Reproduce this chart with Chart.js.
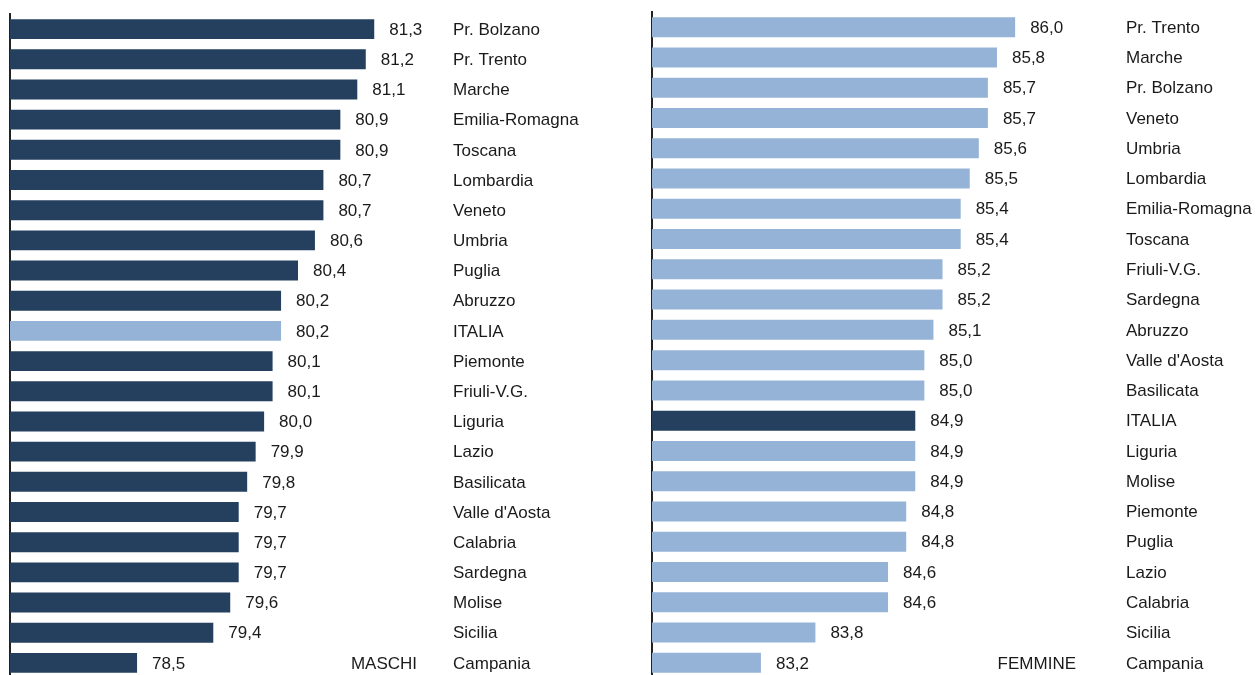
<!DOCTYPE html>
<html>
<head>
<meta charset="utf-8">
<script src="https://cdn.jsdelivr.net/npm/chart.js@4"></script>
<style>
  html, body { margin: 0; padding: 0; background: #fff; overflow: hidden; }
  .box { position: absolute; top: 0; height: 678px; }
  #boxM { left: 0; width: 640px; }
  #boxF { left: 640px; width: 618px; }
</style>
</head>
<body>
<div class="box" id="boxM"><canvas id="chartM"></canvas></div>
<div class="box" id="boxF"><canvas id="chartF"></canvas></div>
<script>
// Speranza di vita alla nascita per regione
const regioniMaschi = ["Pr. Bolzano", "Pr. Trento", "Marche", "Emilia-Romagna", "Toscana", "Lombardia",
  "Veneto", "Umbria", "Puglia", "Abruzzo", "ITALIA", "Piemonte", "Friuli-V.G.", "Liguria", "Lazio",
  "Basilicata", "Valle d'Aosta", "Calabria", "Sardegna", "Molise", "Sicilia", "Campania"];
const valoriMaschi = [81.3, 81.2, 81.1, 80.9, 80.9, 80.7, 80.7, 80.6, 80.4, 80.2, 80.2, 80.1, 80.1,
  80.0, 79.9, 79.8, 79.7, 79.7, 79.7, 79.6, 79.4, 78.5];

const regioniFemmine = ["Pr. Trento", "Marche", "Pr. Bolzano", "Veneto", "Umbria", "Lombardia",
  "Emilia-Romagna", "Toscana", "Friuli-V.G.", "Sardegna", "Abruzzo", "Valle d'Aosta", "Basilicata",
  "ITALIA", "Liguria", "Molise", "Piemonte", "Puglia", "Lazio", "Calabria", "Sicilia", "Campania"];
const valoriFemmine = [86.0, 85.8, 85.7, 85.7, 85.6, 85.5, 85.4, 85.4, 85.2, 85.2, 85.1, 85.0, 85.0,
  84.9, 84.9, 84.9, 84.8, 84.8, 84.6, 84.6, 83.8, 83.2];

const DARK = '#253f5f';
const LIGHT = '#95b3d7';
const FONT = '17px "Liberation Sans", Arial, sans-serif';

// draws value labels, region names and the series title
const labelsPlugin = {
  id: 'labels',
  afterDatasetsDraw(chart) {
    const ctx = chart.ctx;
    const meta = chart.getDatasetMeta(0);
    const area = chart.chartArea;
    const opts = chart.options.plugins.labels;
    ctx.save();
    ctx.font = FONT;
    ctx.fillStyle = '#1a1a1a';
    ctx.textBaseline = 'middle';
    ctx.textAlign = 'left';
    meta.data.forEach((bar, i) => {
      const v = chart.data.datasets[0].data[i];
      ctx.fillText(v.toFixed(1).replace('.', ','), bar.x + 15, bar.y + 1);
      ctx.fillText(chart.data.labels[i], area.right + 11, bar.y + 1);
    });
    const last = meta.data[meta.data.length - 1];
    ctx.textAlign = 'right';
    ctx.fillText(opts.title, area.right - opts.titleOffset, last.y + 1);
    ctx.restore();
  }
};

const makeChart = (id, labels, values, main, other, min, max, pad, title, titleOffset) => {
  new Chart(document.getElementById(id), {
    type: 'bar',
    data: {
      labels: labels,
      datasets: [{
        data: values,
        backgroundColor: labels.map(l => l === 'ITALIA' ? other : main),
        borderWidth: 0,
        barPercentage: 0.66,
        categoryPercentage: 1.0
      }]
    },
    options: {
      indexAxis: 'y',
      responsive: true,
      maintainAspectRatio: false,
      animation: false,
      layout: { padding: pad },
      scales: {
        x: { display: false, min: min, max: max },
        y: {
          ticks: { display: false },
          grid: { display: false, drawTicks: false },
          border: { display: true, color: '#222', width: 2 }
        }
      },
      plugins: {
        legend: { display: false },
        tooltip: { enabled: false },
        labels: { title: title, titleOffset: titleOffset }
      }
    },
    plugins: [labelsPlugin]
  });
};

makeChart('chartM', regioniMaschi, valoriMaschi, DARK, LIGHT, 77, 82.1,
  { left: 10, right: 198, top: 14, bottom: 0 }, 'MASCHI', 25);
makeChart('chartF', regioniFemmine, valoriFemmine, LIGHT, DARK, 82, 87.1,
  { left: 12, right: 143, top: 12, bottom: 0 }, 'FEMMINE', 39);
</script>
</body>
</html>
